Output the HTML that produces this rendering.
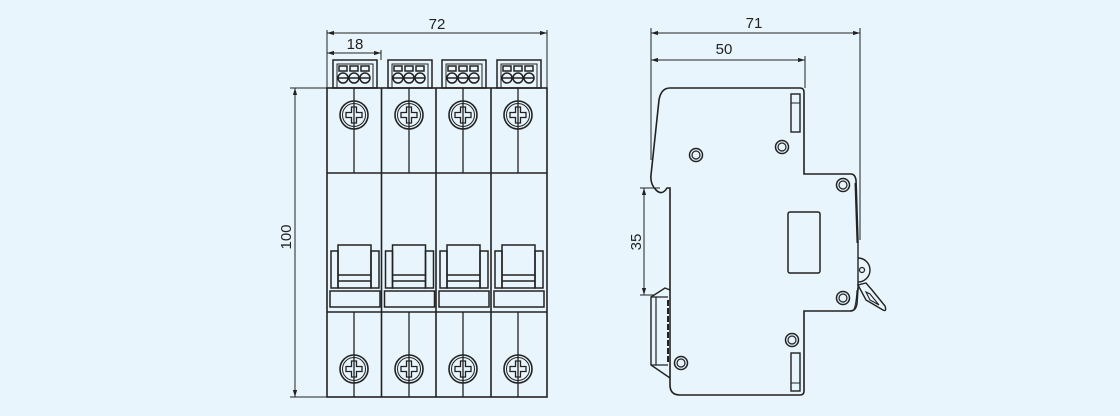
<!DOCTYPE html>
<html><head><meta charset="utf-8"><style>
html,body{margin:0;padding:0;background:#e8f5fd;}
svg{display:block;}
text{font-family:"Liberation Sans",sans-serif;font-size:15px;fill:#222;}
</style></head><body>
<svg width="1120" height="416" viewBox="0 0 1120 416" xmlns="http://www.w3.org/2000/svg">
<rect width="1120" height="416" fill="#e8f5fd"/>
<defs>
<marker id="a" viewBox="0 0 10 10" refX="10" refY="5" markerWidth="7" markerHeight="7" orient="auto-start-reverse"><path d="M0,2 L10,5 L0,8 z" fill="#222"/></marker>
<g id="term" fill="none" stroke="#222" stroke-width="1.5">
<rect x="0" y="0" width="44" height="28"/>
<path d="M4,28 V4 H40 V28" stroke-width="1"/>
<rect x="6" y="6" width="8" height="5"/><rect x="17" y="6" width="8" height="5"/><rect x="28" y="6" width="8" height="5"/>
<circle cx="10" cy="18" r="5"/><circle cx="21" cy="18" r="5"/><circle cx="32" cy="18" r="5"/>
<path d="M5,18 H37"/>
</g>
<g id="scr" fill="none" stroke="#222">
<circle r="14" stroke-width="1.6"/><circle r="11.5" stroke-width="1"/>
<path d="M-2.5,-8 H2.5 V-2.5 H8 V2.5 H2.5 V8 H-2.5 V2.5 H-8 V-2.5 H-2.5 Z" stroke-width="1.3"/>
</g>
<g id="hdl" fill="none" stroke="#222" stroke-width="1.5">
<rect x="4" y="157" width="7" height="37"/><rect x="44" y="157" width="8" height="37"/>
<rect x="11" y="151" width="33" height="43"/>
<path d="M11,181 H44 M11,187 H44"/>
<rect x="3" y="197" width="50" height="16"/>
</g>
<g id="ss" fill="none" stroke="#222"><circle r="6.5" stroke-width="1.5"/><circle r="4" stroke-width="1.2"/></g>
</defs>

<!-- FRONT VIEW -->
<g stroke="#222" fill="none">
<line x1="327" y1="30" x2="327" y2="88" stroke-width="1"/>
<line x1="547" y1="30" x2="547" y2="88" stroke-width="1"/>
<line x1="381" y1="50" x2="381" y2="60" stroke-width="1"/>
<line x1="327" y1="33" x2="547" y2="33" stroke-width="1" marker-start="url(#a)" marker-end="url(#a)"/>
<line x1="327" y1="53" x2="381" y2="53" stroke-width="1" marker-start="url(#a)" marker-end="url(#a)"/>
<line x1="290" y1="88" x2="327" y2="88" stroke-width="1"/>
<line x1="290" y1="397" x2="327" y2="397" stroke-width="1"/>
<line x1="295" y1="88" x2="295" y2="397" stroke-width="1" marker-start="url(#a)" marker-end="url(#a)"/>
<rect x="327" y="88" width="220" height="309" stroke-width="1.6"/>
<path d="M381.5,88 V397 M436,88 V397 M491,88 V397" stroke-width="1.6"/>
<path d="M327,173 H547 M327,312 H547" stroke-width="1.4"/>
<path d="M354,88 V173 M409,88 V173 M463,88 V173 M518,88 V173 M354,312 V397 M409,312 V397 M463,312 V397 M518,312 V397" stroke-width="1.3"/>
</g>
<text x="437" y="29" text-anchor="middle">72</text>
<text x="355" y="49" text-anchor="middle">18</text>
<text transform="translate(291,237) rotate(-90)" text-anchor="middle">100</text>
<use href="#term" x="333" y="60"/><use href="#term" x="388" y="60"/><use href="#term" x="442" y="60"/><use href="#term" x="497" y="60"/>
<g fill="#e8f5fd">
<use href="#scr" x="354" y="115"/><use href="#scr" x="409" y="115"/><use href="#scr" x="463" y="115"/><use href="#scr" x="518" y="115"/>
<use href="#scr" x="354" y="369"/><use href="#scr" x="409" y="369"/><use href="#scr" x="463" y="369"/><use href="#scr" x="518" y="369"/>
</g>
<rect x="343" y="107" width="22" height="16" fill="none" stroke="none"/>
<use href="#hdl" x="327" y="94"/><use href="#hdl" x="381.5" y="94"/><use href="#hdl" x="436" y="94"/><use href="#hdl" x="491" y="94"/>

<!-- SIDE VIEW -->
<g stroke="#222" fill="none">
<line x1="651" y1="28" x2="651" y2="160" stroke-width="1"/>
<line x1="860" y1="28" x2="860" y2="240" stroke-width="1"/>
<line x1="805" y1="56" x2="805" y2="88" stroke-width="1"/>
<line x1="651" y1="33" x2="860" y2="33" stroke-width="1" marker-start="url(#a)" marker-end="url(#a)"/>
<line x1="651" y1="60" x2="805" y2="60" stroke-width="1" marker-start="url(#a)" marker-end="url(#a)"/>
<line x1="640" y1="188" x2="660" y2="188" stroke-width="1"/>
<line x1="640" y1="295" x2="655" y2="295" stroke-width="1"/>
<line x1="644" y1="188" x2="644" y2="295" stroke-width="1" marker-start="url(#a)" marker-end="url(#a)"/>
<path d="M670,88 H800 Q804,88 804,92 V174 H851 Q855,174 856,180 L858,243" stroke-width="1.6"/>
<path d="M855,183 L857,243" stroke-width="1"/>
<path d="M670,88 Q661,88 659,100 L651,175 Q650,184 656,190 Q662,196 667,188 L670,188 V385 Q670,395 680,395 H800 Q804,395 804,391 V311 H850 Q856,311 857,303 L858,288" stroke-width="1.6"/>
<path d="M854,309 Q856,305 857,290" stroke-width="1"/>
<path d="M858,258 A12,12 0 0 1 858,282" stroke-width="1.4"/>
<circle cx="862" cy="270" r="2.5" stroke-width="1.2"/>
<path d="M858,285 L866,300 L883,310 Q887,312 885,306 L872,290 L866,283 Z" stroke-width="1.4"/>
<path d="M866,292 L870,300 L879,305 L870,294 Z" stroke-width="1.1"/>
<path d="M858,243 V290" stroke-width="1.4"/>
<path d="M670,290 L665,288 L651,297 V365 L670,378" stroke-width="1.4"/>
<path d="M651,297 H668 M651,365 H668 M656,297 V365" stroke-width="1.2"/>
<path d="M668,300 V362" stroke-width="2" stroke-dasharray="6,2"/>
<rect x="791" y="94" width="9" height="38" stroke-width="1.4"/>
<path d="M791,103 H800" stroke-width="1"/>
<rect x="791" y="353" width="9" height="38" stroke-width="1.4"/>
<path d="M791,383 H800" stroke-width="1"/>
<rect x="788" y="212" width="32" height="61" rx="2" stroke-width="1.5"/>
</g>
<use href="#ss" x="696" y="155"/><use href="#ss" x="782" y="147"/><use href="#ss" x="843" y="185"/>
<use href="#ss" x="843" y="298"/><use href="#ss" x="792" y="340"/><use href="#ss" x="681" y="363"/>
<text x="754" y="28" text-anchor="middle">71</text>
<text x="724" y="54" text-anchor="middle">50</text>
<text transform="translate(641,242) rotate(-90)" text-anchor="middle">35</text>
</svg>
</body></html>
